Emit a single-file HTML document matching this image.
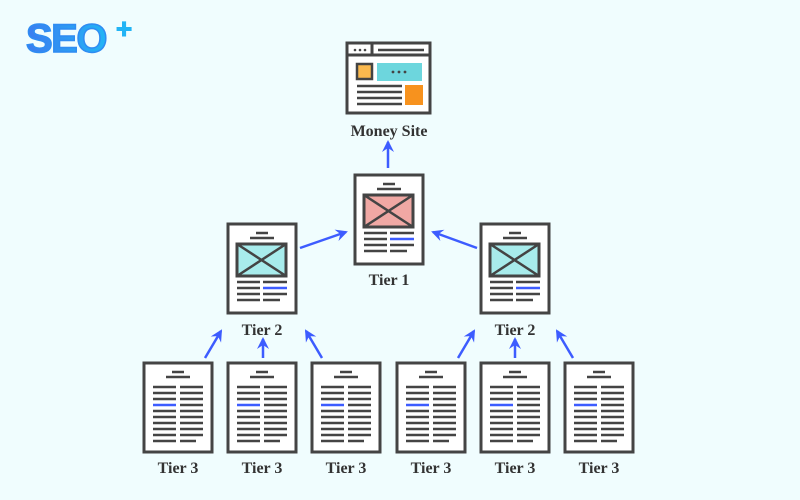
<!DOCTYPE html>
<html><head><meta charset="utf-8"><style>
html,body{margin:0;padding:0;background:#f0fdfe;}
svg{display:block}
text{font-family:"Liberation Serif",serif;font-weight:bold;fill:#333;font-size:16px;text-anchor:middle}
</style></head><body>
<svg width="800" height="500" viewBox="0 0 800 500" xmlns="http://www.w3.org/2000/svg">
<defs>
<linearGradient id="lg" x1="0" x2="1"><stop offset="0" stop-color="#3b7cf0"/><stop offset="1" stop-color="#22b4f5"/></linearGradient>
<marker id="ah" markerWidth="14" markerHeight="14" refX="10" refY="7" orient="auto" markerUnits="userSpaceOnUse"><path d="M0,1 L12,7 L0,13 L4,7 Z" fill="#3d5cff"/></marker>
<g id="d12">
<rect x="0" y="0" width="68" height="89" fill="#fff" stroke="#444" stroke-width="3"/>
<g stroke="#444" stroke-width="2.5">
<line x1="28" y1="9" x2="40" y2="9"/><line x1="22" y1="14" x2="46" y2="14"/>
<line x1="9" y1="58" x2="32" y2="58"/><line x1="35" y1="58" x2="59" y2="58"/>
<line x1="9" y1="64" x2="32" y2="64"/>
<line x1="9" y1="70" x2="32" y2="70"/><line x1="35" y1="70" x2="59" y2="70"/>
<line x1="9" y1="76" x2="32" y2="76"/><line x1="35" y1="76" x2="52" y2="76"/>
</g>
<line x1="35" y1="64" x2="59" y2="64" stroke="#3d5cff" stroke-width="2.5"/>
</g>
<g id="imgc"><rect x="9" y="20" width="49" height="32" stroke="#444" stroke-width="3"/><path d="M9,20 L58,52 M58,20 L9,52" stroke="#444" stroke-width="2.5"/></g>
<g id="d3">
<rect x="0" y="0" width="68" height="89" fill="#fff" stroke="#444" stroke-width="3"/>
<g stroke="#444" stroke-width="2.5">
<line x1="28" y1="9" x2="40" y2="9"/><line x1="22" y1="14" x2="46" y2="14"/>
<path d="M9,24H32M36,24H59M9,30H32M36,30H59M9,36H32M36,36H59M36,42H59M9,48H32M36,48H59M9,54H32M36,54H59M9,60H32M36,60H59M9,66H32M36,66H59M9,72H32M36,72H59M9,78H32M36,78H52"/>
</g>
<line x1="9" y1="42" x2="32" y2="42" stroke="#3d5cff" stroke-width="2.5"/>
</g>
</defs>

<text x="26" y="52" style="font-family:'Liberation Sans',sans-serif;font-size:40px;font-weight:bold;fill:url(#lg);stroke:#2f8cf2;stroke-width:1.5;text-anchor:start;letter-spacing:-1.5px">SEO</text>
<text x="124" y="38" style="font-family:'Liberation Sans',sans-serif;font-size:28px;font-weight:bold;fill:#22b4f5;stroke:#22b4f5;stroke-width:1">+</text>

<!-- Money site -->
<g transform="translate(347,43)">
<rect x="0" y="0" width="83" height="70" fill="#fff" stroke="#444" stroke-width="3"/>
<line x1="0" y1="12" x2="83" y2="12" stroke="#444" stroke-width="3"/>
<line x1="25" y1="1" x2="25" y2="12" stroke="#444" stroke-width="3"/>
<g fill="#444"><circle cx="8" cy="7" r="1.3"/><circle cx="13" cy="7" r="1.3"/><circle cx="18" cy="7" r="1.3"/></g>
<line x1="31" y1="7" x2="77" y2="7" stroke="#444" stroke-width="2.5"/>
<rect x="10" y="21" width="15" height="15" fill="#fbb94e" stroke="#444" stroke-width="2.5"/>
<rect x="30" y="20" width="45" height="18" fill="#6dd6dd"/>
<g fill="#444"><circle cx="46" cy="29" r="1.4"/><circle cx="52" cy="29" r="1.4"/><circle cx="58" cy="29" r="1.4"/></g>
<path d="M10,43H55M10,49H55M10,55H55M10,61H55" stroke="#444" stroke-width="2.5"/>
<rect x="58" y="42" width="18" height="20" fill="#f7921e"/>
</g>
<text x="389" y="136">Money Site</text>

<g transform="translate(355,175)"><use href="#d12"/><use href="#imgc" fill="#f0a8a4"/></g>
<text x="389" y="285">Tier 1</text>
<g transform="translate(228,224)"><use href="#d12"/><use href="#imgc" fill="#a8ecec"/></g>
<text x="262" y="335">Tier 2</text>
<g transform="translate(481,224)"><use href="#d12"/><use href="#imgc" fill="#a8ecec"/></g>
<text x="515" y="335">Tier 2</text>

<g transform="translate(144,363)"><use href="#d3"/></g>
<g transform="translate(228,363)"><use href="#d3"/></g>
<g transform="translate(312,363)"><use href="#d3"/></g>
<g transform="translate(397,363)"><use href="#d3"/></g>
<g transform="translate(481,363)"><use href="#d3"/></g>
<g transform="translate(565,363)"><use href="#d3"/></g>
<text x="178" y="473">Tier 3</text><text x="262" y="473">Tier 3</text><text x="346" y="473">Tier 3</text>
<text x="431" y="473">Tier 3</text><text x="515" y="473">Tier 3</text><text x="599" y="473">Tier 3</text>

<g stroke="#3d5cff" stroke-width="2.5" marker-end="url(#ah)">
<line x1="388" y1="168" x2="388" y2="142"/>
<line x1="300" y1="248" x2="346" y2="232"/>
<line x1="477" y1="248" x2="433" y2="232"/>
<line x1="205" y1="358" x2="221" y2="331"/>
<line x1="263" y1="358" x2="263" y2="339"/>
<line x1="322" y1="358" x2="306" y2="331"/>
<line x1="458" y1="358" x2="474" y2="331"/>
<line x1="515" y1="358" x2="515" y2="339"/>
<line x1="573" y1="358" x2="557" y2="331"/>
</g>
</svg>
</body></html>
